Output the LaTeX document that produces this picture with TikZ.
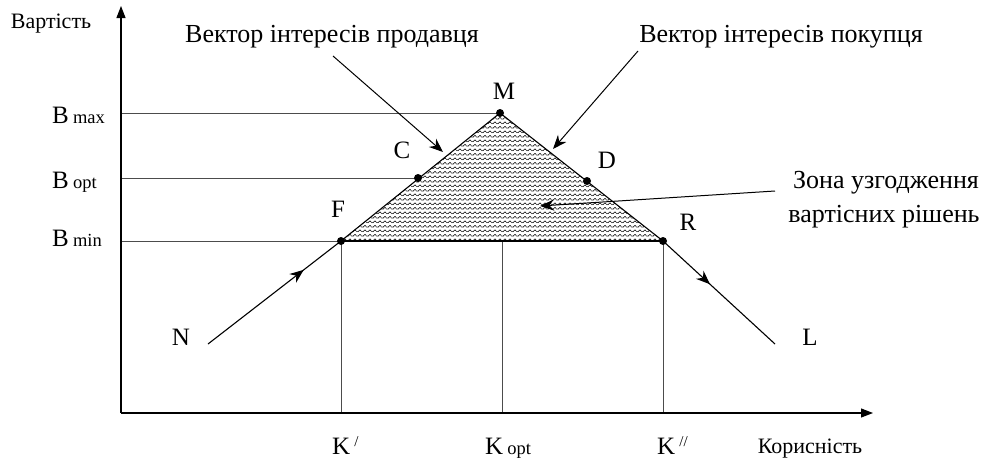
\documentclass[tikz,border=0pt]{standalone}
\usepackage{fontspec}
\setmainfont{Liberation Serif}
\usetikzlibrary{arrows.meta,decorations.markings,patterns}
\pgfdeclarepatternformonly{chevrons}{\pgfpoint{-1pt}{-1pt}}{\pgfpoint{6pt}{5pt}}{\pgfpoint{5pt}{4.5pt}}{%
  \pgfsetlinewidth{0.8pt}%
  \pgfsetdash{{1.2pt}{0.6pt}}{0pt}%
  \pgfpathmoveto{\pgfpoint{0pt}{3pt}}%
  \pgfpathlineto{\pgfpoint{2.5pt}{1pt}}%
  \pgfpathlineto{\pgfpoint{5pt}{3pt}}%
  \pgfusepath{stroke}}
\tikzset{
  axis/.style={line width=1.1pt,-{Triangle[length=12pt,width=9pt]}},
  guide/.style={line width=0.8pt,black!70},
  vec/.style={line width=1.1pt},
  ptr/.style={line width=1pt,-{Stealth[length=14pt,width=11pt]}},
  dot/.style={circle,fill=black,inner sep=0pt,minimum size=8pt},
  lbl/.style={font=\fontsize{25}{28}\selectfont,inner sep=0pt},
  txt/.style={font=\fontsize{26}{30}\selectfont,inner sep=0pt},
  small/.style={font=\fontsize{22}{26}\selectfont,inner sep=0pt},
  midarrow/.style={postaction={decorate},decoration={markings,mark=at position #1 with {\arrow{Stealth[length=14pt,width=11pt]}}}}
}
\newcommand{\subtxt}[1]{{\fontsize{18.5}{20}\selectfont #1}}
\newcommand{\suptxt}[1]{\raisebox{8pt}{\fontsize{15}{16}\selectfont #1}}
\begin{document}
\begin{tikzpicture}[x=1pt,y=-1pt]
\useasboundingbox (0,0) rectangle (989,458);
% points
\coordinate (O) at (121,413);
\coordinate (Ytop) at (121,6);
\coordinate (Xend) at (873,413);
\coordinate (M) at (500,113);
\coordinate (F) at (341,241);
\coordinate (R) at (663,241);
\coordinate (C) at (418,178);
\coordinate (D) at (587,181);
\coordinate (Nend) at (208,344);
\coordinate (Lend) at (775,344);
\coordinate (Bmax) at (121,113);
\coordinate (Bopt) at (121,178);
\coordinate (Bmin) at (121,241);
\coordinate (Kp) at (341,413);
\coordinate (Ko) at (502,413);
\coordinate (Kpp) at (663,413);
\coordinate (Ko2) at (502,241);
% zone
\fill[pattern=chevrons,pattern color=black!90] (F) -- (M) -- (R) -- cycle;
% guides
\draw[guide] (Bmax) -- (M);
\draw[guide] (Bopt) -- (C);
\draw[guide] (Bmin) -- (F);
\draw[guide] (Kp) -- (F);
\draw[guide] (Ko) -- (Ko2);
\draw[guide] (Kpp) -- (R);
% axes
\draw[axis] (O) -- (Ytop);
\draw[axis] (O) -- (Xend);
% vectors
\draw[vec] (F) -- (M) -- (R);
\draw[vec] (F) -- (R);
\draw[vec,midarrow=0.72] (Nend) -- (F);
\draw[vec,midarrow=0.42] (R) -- (Lend);
% dots
\foreach \p in {M,F,R,C,D} \node[dot] (d\p) at (\p) {};
% labels
\node[small,anchor=base] (lv) at (51,28) {Вартість};
\node[small,anchor=base] (lk) at (810,453) {Корисність};
\node[lbl,anchor=base west] (lbmax) at (52,123) {B\,\subtxt{max}};
\node[lbl,anchor=base west] (lbopt) at (52,188) {B\,\subtxt{opt}};
\node[lbl,anchor=base west] (lbmin) at (52,246) {B\,\subtxt{min}};
\node[lbl,anchor=base] (lM) at (504,99) {M};
\node[lbl,anchor=base] (lC) at (402,158) {C};
\node[lbl,anchor=base] (lD) at (607,168) {D};
\node[lbl,anchor=base] (lF) at (338,217) {F};
\node[lbl,anchor=base] (lR) at (688,230) {R};
\node[lbl,anchor=base] (lN) at (181,345) {N};
\node[lbl,anchor=base] (lL) at (810,345) {L};
\node[lbl,anchor=base west] (lk1) at (332,454) {K\,\suptxt{/}};
\node[lbl,anchor=base west] (lk2) at (485,454) {K\,\subtxt{opt}};
\node[lbl,anchor=base west] (lk3) at (657,454) {K\,\suptxt{//}};
\node[txt,anchor=base] (ts) at (332,42) {Вектор інтересів продавця};
\node[txt,anchor=base] (tb) at (781,42) {Вектор інтересів покупця};
\node[txt,anchor=base] (tz1) at (886,188) {Зона узгодження};
\node[txt,anchor=base] (tz2) at (884,222) {вартісних рішень};
% pointers
\coordinate (s1) at (333,56);
\coordinate (s2) at (443,152);
\coordinate (b1) at (638,51);
\coordinate (b2) at (553,149);
\coordinate (z1) at (775,191);
\coordinate (z2) at (540,206);
\draw[ptr] (s1) -- (s2);
\draw[ptr] (b1) -- (b2);
\draw[ptr] (z1) -- (z2);
\end{tikzpicture}
\end{document}
